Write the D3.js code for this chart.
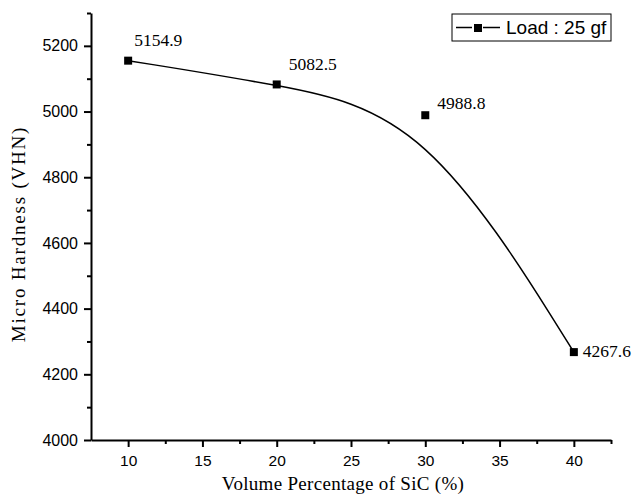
<!DOCTYPE html>
<html>
<head>
<meta charset="utf-8">
<script src="https://cdn.jsdelivr.net/npm/d3@7"></script>
<style>
body { margin: 0; background: #fff; }
</style>
</head>
<body>
<div id="chart"></div>
<script>
var sic = [10, 20, 30, 40]
var hardness = [5154.9, 5082.5, 4988.8, 4267.6]
var xTicks = [10, 15, 20, 25, 30, 35, 40]
var yTicks = [4000, 4200, 4400, 4600, 4800, 5000, 5200]
var seriesName = "Load : 25 gf"

var width = 636
var height = 498
var margin = { top: 13, right: 25, bottom: 58, left: 91 }
var w = width - margin.left - margin.right
var h = height - margin.top - margin.bottom

var data = sic.map(function (d, i) { return { x: d, y: hardness[i] } })

var svg = d3.select("#chart").append("svg")
	.attr("width", width)
	.attr("height", height)

var g = svg.append("g")
	.attr("transform", "translate(" + margin.left + "," + margin.top + ")")

var x = d3.scaleLinear().domain([7.5, 42.5]).range([0, w])
var y = d3.scaleLinear().domain([4000, 5300]).range([h, 0])

// minor ticks
g.append("g")
	.attr("transform", "translate(0," + h + ")")
	.call(d3.axisBottom(x).tickValues([12.5, 17.5, 22.5, 27.5, 32.5, 37.5, 42.5]).tickSize(4).tickFormat(""))
	.call(function (a) { a.select(".domain").remove() })
	.selectAll("line").attr("stroke-width", 2)
g.append("g")
	.call(d3.axisLeft(y).tickValues([4100, 4300, 4500, 4700, 4900, 5100, 5300]).tickSize(4).tickFormat(""))
	.call(function (a) { a.select(".domain").remove() })
	.selectAll("line").attr("stroke-width", 2)

// major axes
var xAxis = g.append("g")
	.attr("transform", "translate(0," + h + ")")
	.call(d3.axisBottom(x).tickValues(xTicks).tickSize(7).tickSizeOuter(0).tickPadding(8))
xAxis.select(".domain").attr("stroke-width", 2)
xAxis.selectAll("line").attr("stroke-width", 2)
xAxis.selectAll("text").attr("font-family", "Liberation Sans, Arial").attr("font-size", 15.5).attr("fill", "#000")

var yAxis = g.append("g")
	.call(d3.axisLeft(y).tickValues(yTicks).tickSize(7).tickSizeOuter(0).tickPadding(6).tickFormat(d3.format("d")))
yAxis.select(".domain").attr("stroke-width", 2)
yAxis.selectAll("line").attr("stroke-width", 2)
yAxis.selectAll("text").attr("font-family", "Liberation Sans, Arial").attr("font-size", 16).attr("fill", "#000")

// titles
svg.append("text")
	.attr("x", 343)
	.attr("y", 490)
	.attr("text-anchor", "middle")
	.attr("font-family", "Liberation Serif, Times New Roman")
	.attr("font-size", 19)
	.attr("letter-spacing", 0.3)
	.text("Volume Percentage of SiC (%)")

svg.append("text")
	.attr("transform", "translate(25,234) rotate(-90)")
	.attr("text-anchor", "middle")
	.attr("font-family", "Liberation Serif, Times New Roman")
	.attr("font-size", 19)
	.attr("letter-spacing", 1.8)
	.text("Micro Hardness (VHN)")

// smooth curve
g.append("path")
	.datum(data)
	.attr("fill", "none")
	.attr("stroke", "#000")
	.attr("stroke-width", 1.5)
	.attr("d", d3.line()
		.x(function (d) { return x(d.x) })
		.y(function (d) { return y(d.y) })
		.curve(d3.curveBasis))

// markers
g.selectAll(".pt")
	.data(data)
	.enter().append("rect")
	.attr("class", "pt")
	.attr("x", function (d) { return x(d.x) - 4 })
	.attr("y", function (d) { return y(d.y) - 4 })
	.attr("width", 8)
	.attr("height", 8)
	.attr("fill", "#000")

// value labels
var labelOffsets = [[6, -15], [12, -14], [12, -6], [9, 5]]
g.selectAll(".lbl")
	.data(data)
	.enter().append("text")
	.attr("class", "lbl")
	.attr("x", function (d, i) { return x(d.x) + labelOffsets[i][0] })
	.attr("y", function (d, i) { return y(d.y) + labelOffsets[i][1] })
	.attr("font-family", "Liberation Serif, Times New Roman")
	.attr("font-size", 17.5)
	.text(function (d) { return d.y.toFixed(1) })

// legend
var lg = svg.append("g").attr("transform", "translate(452,14)")
lg.append("rect")
	.attr("width", 159)
	.attr("height", 27)
	.attr("fill", "#fff")
	.attr("stroke", "#000")
	.attr("stroke-width", 1)
lg.append("line")
	.attr("x1", 4).attr("x2", 48)
	.attr("y1", 13.5).attr("y2", 13.5)
	.attr("stroke", "#000")
	.attr("stroke-width", 1.5)
lg.append("rect")
	.attr("x", 20).attr("y", 9)
	.attr("width", 11).attr("height", 11)
	.attr("fill", "#fff")
lg.append("rect")
	.attr("x", 22).attr("y", 10)
	.attr("width", 8).attr("height", 8)
	.attr("fill", "#000")
lg.append("text")
	.attr("x", 54)
	.attr("y", 20)
	.attr("font-family", "Liberation Sans, Arial")
	.attr("font-size", 19)
	.text(seriesName)
</script>
</body>
</html>
